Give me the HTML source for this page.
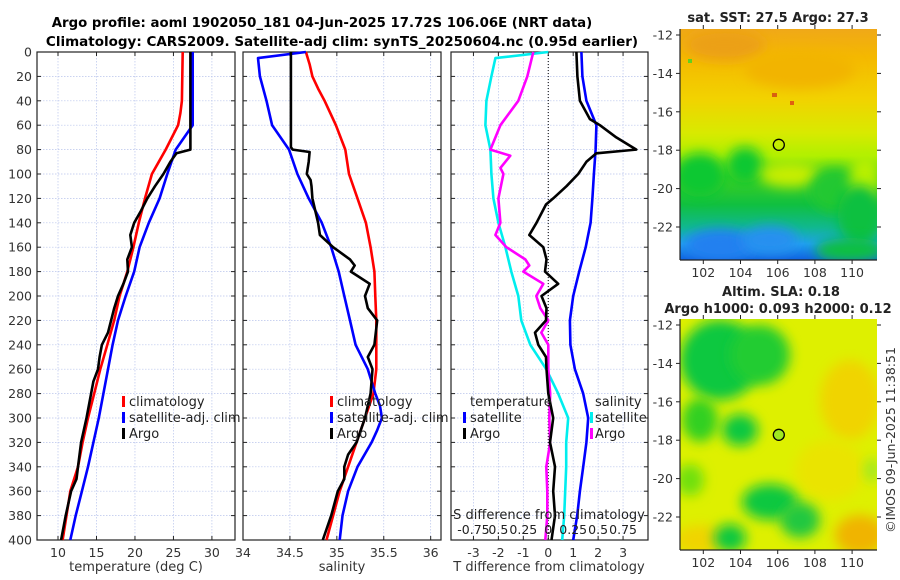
<!DOCTYPE html>
<html><head><meta charset="utf-8">
<style>
html,body{margin:0;padding:0;background:#fff;}
svg{display:block;font-family:"DejaVu Sans","Liberation Sans",sans-serif;}
</style></head>
<body>
<svg id="chart" width="900" height="580" viewBox="0 0 900 580" xmlns="http://www.w3.org/2000/svg">
<defs>
  <filter id="blur6" x="-50%" y="-50%" width="200%" height="200%"><feGaussianBlur stdDeviation="6"/></filter>
  <filter id="blur3" x="-50%" y="-50%" width="200%" height="200%"><feGaussianBlur stdDeviation="3"/></filter>
  <clipPath id="clipTop"><rect x="680" y="29" width="197" height="231"/></clipPath>
  <clipPath id="clipBot"><rect x="680" y="319" width="197" height="231"/></clipPath>
  <linearGradient id="sstGrad" x1="0" y1="0" x2="0" y2="1">
    <stop offset="0" stop-color="#f0a818"/>
    <stop offset="0.12" stop-color="#f4b800"/>
    <stop offset="0.3" stop-color="#f2d200"/>
    <stop offset="0.45" stop-color="#d8ea00"/>
    <stop offset="0.55" stop-color="#b0f000"/>
    <stop offset="0.64" stop-color="#40d020"/>
    <stop offset="0.76" stop-color="#10c040"/>
    <stop offset="0.86" stop-color="#10b890"/>
    <stop offset="0.93" stop-color="#20a0f0"/>
    <stop offset="1" stop-color="#1060e0"/>
  </linearGradient>
</defs>
<text x="322" y="27" text-anchor="middle" font-size="13.3" font-weight="bold">Argo profile: aoml 1902050_181 04-Jun-2025 17.72S 106.06E (NRT data)</text>
<text x="342" y="46" text-anchor="middle" font-size="13.5" font-weight="bold">Climatology: CARS2009. Satellite-adj clim: synTS_20250604.nc (0.95d earlier)</text>
<g id="panels"></g>
<g id="maps"></g>
</svg>
<script>
// ---------- data ----------
const tempDepths = [0,40,50,60,70,80,90,100,120,140,160,180,200,220,240,260,280,300,320,340,360,380,400];
const tempClim   = [26.2,26.1,25.9,25.6,24.8,24.0,23.1,22.2,21.3,20.5,19.8,19.0,18.0,17.3,16.4,15.5,14.7,13.9,13.2,12.6,11.6,11.1,10.6];
const tempSatDepths = [0,60,80,100,120,140,160,180,200,220,240,260,280,300,320,340,360,380,400];
const tempSat    = [27.5,27.5,25.3,24.2,23.2,21.8,20.6,19.9,18.8,17.8,17.1,16.5,15.9,15.3,14.6,13.9,13.1,12.3,11.6];
const tempArgoDepths = [0,80,83,90,100,110,120,130,140,150,160,170,180,190,200,210,220,230,240,250,260,270,280,300,320,340,350,360,380,400];
const tempArgo   = [27.2,27.2,25.4,24.6,23.7,22.6,21.6,20.8,19.9,19.4,19.6,19.0,19.1,18.5,17.8,17.3,16.9,16.5,15.7,15.4,15.2,14.6,14.3,13.7,13.0,12.6,12.4,11.7,11.0,10.4];

const salDepths = [0,10,20,30,40,60,80,100,120,140,160,180,200,220,240,260,280,300,320,340,360,380,400];
const salClim   = [34.67,34.71,34.74,34.80,34.87,34.99,35.09,35.13,35.22,35.31,35.36,35.40,35.41,35.42,35.42,35.42,35.39,35.30,35.21,35.12,35.03,34.96,34.89];
const salSatDepths = [0,5,20,40,60,80,100,120,140,160,180,200,220,240,260,280,290,300,310,320,340,360,380,400];
const salSat    = [34.67,34.16,34.18,34.25,34.31,34.49,34.58,34.70,34.84,34.94,35.02,35.08,35.14,35.20,35.33,35.41,35.46,35.48,35.43,35.37,35.22,35.12,35.06,35.03];
const salArgoDepths = [0,78,80,82,90,100,105,110,120,140,150,160,170,175,180,190,200,210,220,240,250,260,280,300,320,330,340,350,360,380,400];
const salArgo   = [34.51,34.51,34.53,34.71,34.70,34.68,34.72,34.73,34.74,34.80,34.82,34.96,35.14,35.19,35.15,35.35,35.30,35.33,35.43,35.40,35.33,35.38,35.36,35.30,35.21,35.12,35.08,35.08,35.01,34.94,34.85];

const diffDepths = [0,20,40,60,80,100,120,140,160,180,200,220,240,260,280,300,320,340,360,380,400];
const dTempSat  = [1.33,1.37,1.53,1.93,1.90,1.83,1.77,1.70,1.50,1.24,1.00,0.87,0.89,1.07,1.40,1.60,1.53,1.40,1.27,1.16,1.00];
const dArgoTDepths = [0,20,40,55,60,70,80,83,90,100,110,120,125,140,150,160,170,180,190,200,210,220,230,240,250,260,280,300,320,340,360,380,400];
const dTempArgo = [1.13,1.17,1.27,1.67,2.07,2.73,3.53,1.93,1.53,1.20,0.73,0.20,-0.09,-0.47,-0.76,-0.20,-0.07,-0.13,0.40,-0.27,-0.07,-0.09,-0.53,-0.40,-0.09,-0.07,0.00,0.20,0.07,0.27,0.20,0.27,0.13];
const dSalSatDepths = [0,5,20,40,60,80,100,120,140,160,180,200,220,240,260,280,300,320,340,360,380,400];
const dSalSat   = [0.00,-0.53,-0.57,-0.62,-0.63,-0.58,-0.57,-0.55,-0.50,-0.43,-0.37,-0.30,-0.27,-0.18,-0.02,0.10,0.20,0.18,0.18,0.17,0.16,0.14];
const dSalArgoDepths = [0,20,40,60,80,85,95,100,120,140,150,160,170,175,180,190,200,210,220,230,240,260,280,300,320,340,360,380,400];
const dSalArgo  = [-0.15,-0.21,-0.30,-0.48,-0.58,-0.38,-0.48,-0.45,-0.50,-0.48,-0.53,-0.42,-0.23,-0.19,-0.25,-0.05,-0.12,-0.08,0.00,-0.07,0.00,0.00,0.02,0.01,0.02,-0.02,-0.01,-0.01,-0.03];

const depthTicks = [0,20,40,60,80,100,120,140,160,180,200,220,240,260,280,300,320,340,360,380,400];
const tempTicks = [10,15,20,25,30];
const salTicks = [34,34.5,35,35.5,36];
const salTickLabels = ["34","34.5","35","35.5","36"];
const dTTicks = [-3,-2,-1,0,1,2,3];
const dSTicks = [-0.75,-0.5,-0.25,0,0.25,0.5,0.75];
const dSTickLabels = ["-0.75","0.5","0.25","0","0.25","0.5","0.75"];
const mapLonTicks = [102,104,106,108,110];
const mapLatTicks = [-12,-14,-16,-18,-20,-22];
const argoLon = 106.06, argoLat = -17.72;

// ---------- helpers ----------
const NS = "http://www.w3.org/2000/svg";
function mk(tag, attrs, parent){
  const e = document.createElementNS(NS, tag);
  for (const k in attrs) e.setAttribute(k, attrs[k]);
  parent.appendChild(e);
  return e;
}
const PT = 52, PB = 540;
const yD = d => PT + (PB-PT)*d/400;
function xScale(x0,x1,a,b){ return v => x0 + (v-a)/(b-a)*(x1-x0); }

const panelsG = document.getElementById('panels');

function framePanel(name, x0, x1, xs, ticks, labels, showY){
  const g = mk('g', {}, panelsG);
  
  
  ticks.forEach(t => {
    const x = xs(t);
    if (x > x0+1 && x < x1-1) {
      const l = mk('line', {x1:x, x2:x, y1:PT, y2:PB, stroke:'#b8c4ec', 'stroke-width':0.7, 'stroke-dasharray':'1.5,1.5'}, g);
      
      
    }
  });
  depthTicks.forEach(d => {
    const y = yD(d);
    const l = mk('line', {x1:x0, x2:x1, y1:y, y2:y, stroke:'#b8c4ec', 'stroke-width':0.7, 'stroke-dasharray':'1.5,1.5'}, g);
    
    
    mk('line', {x1:x0, x2:x0+4, y1:y, y2:y, stroke:'#222', 'stroke-width':1}, g);
    mk('line', {x1:x1-4, x2:x1, y1:y, y2:y, stroke:'#222', 'stroke-width':1}, g);
    if (showY) {
      const t = mk('text', {x:x0-5, y:y+4.5, 'text-anchor':'end', 'font-size':12.5, fill:'#333'}, g);
      t.textContent = d;
      
      
    }
  });
  ticks.forEach((t,i) => {
    const x = xs(t);
    mk('line', {x1:x, x2:x, y1:PB-4, y2:PB, stroke:'#222', 'stroke-width':1}, g);
    mk('line', {x1:x, x2:x, y1:PT, y2:PT+4, stroke:'#222', 'stroke-width':1}, g);
    if (labels) {
      const tx = mk('text', {x:x, y:PB+17, 'text-anchor':'middle', 'font-size':12.5, fill:'#333'}, g);
      tx.textContent = labels[i];
      
      
    }
  });
  const r = mk('rect', {x:x0, y:PT, width:x1-x0, height:PB-PT, fill:'none', stroke:'#222', 'stroke-width':1.2}, g);
  
  
  return g;
}
function line(g, name, xs, depths, vals, color, scale){
  const pts = depths.map((d,i) => xs(vals[i]*(scale||1)).toFixed(1) + ',' + yD(d).toFixed(1)).join(' ');
  const p = mk('polyline', {points:pts, fill:'none', stroke:color, 'stroke-width':2.6, 'stroke-linejoin':'round'}, g);
  
  
}
function label(g, name, x, y, txt, opts){
  const t = mk('text', Object.assign({x:x, y:y, 'font-size':13, fill:'#222'}, opts||{}), g);
  t.textContent = txt;
  
  
  return t;
}
function legendMark(g, name, x, y, color){
  const r = mk('rect', {x:x, y:y, width:3, height:11, fill:color}, g);
  
  
}

// ---------- panel 1: temperature ----------
const xT = xScale(37, 235, 7.27, 33.0);
const g1 = framePanel('temperature-panel', 37, 235, xT, tempTicks, tempTicks.map(String), true);
line(g1, 'temperature-climatology-line', xT, tempDepths, tempClim, '#ff0000');
line(g1, 'temperature-satellite-line', xT, tempSatDepths, tempSat, '#0000ff');
line(g1, 'temperature-argo-line', xT, tempArgoDepths, tempArgo, '#000000');
label(g1, 'x-axis-title-temperature', 136, 571, 'temperature (deg C)', {'text-anchor':'middle', fill:'#333'});
legendMark(g1, 'legend-marker-climatology', 122, 396, '#ff0000');
label(g1, 'legend-climatology', 129, 406, 'climatology');
legendMark(g1, 'legend-marker-satellite', 122, 412, '#0000ff');
label(g1, 'legend-satellite', 129, 422, 'satellite-adj. clim');
legendMark(g1, 'legend-marker-argo', 122, 428, '#000000');
label(g1, 'legend-argo', 129, 438, 'Argo');

// ---------- panel 2: salinity ----------
const xS = xScale(243, 441, 34.0, 36.11);
const g2 = framePanel('salinity-panel', 243, 441, xS, salTicks, salTickLabels, false);
line(g2, 'salinity-climatology-line', xS, salDepths, salClim, '#ff0000');
line(g2, 'salinity-satellite-line', xS, salSatDepths, salSat, '#0000ff');
line(g2, 'salinity-argo-line', xS, salArgoDepths, salArgo, '#000000');
label(g2, 'x-axis-title-salinity', 342, 571, 'salinity', {'text-anchor':'middle', fill:'#333'});
legendMark(g2, 'legend-marker-climatology', 330, 396, '#ff0000');
label(g2, 'legend-climatology', 337, 406, 'climatology');
legendMark(g2, 'legend-marker-satellite', 330, 412, '#0000ff');
label(g2, 'legend-satellite', 337, 422, 'satellite-adj. clim');
legendMark(g2, 'legend-marker-argo', 330, 428, '#000000');
label(g2, 'legend-argo', 337, 438, 'Argo');

// ---------- panel 3: differences ----------
const xDT = xScale(451, 648, -3.9, 4.0);
const g3 = framePanel('difference-panel', 451, 648, xDT, dTTicks, dTTicks.map(String), false);
const z = mk('line', {x1:xDT(0), x2:xDT(0), y1:PT, y2:PB, stroke:'#000', 'stroke-width':1, 'stroke-dasharray':'1,2'}, g3);


line(g3, 'salinity-diff-satellite-line', xDT, dSalSatDepths, dSalSat, '#00eeee', 4);
line(g3, 'salinity-diff-argo-line', xDT, dSalArgoDepths, dSalArgo, '#ff00ff', 4);
line(g3, 'temperature-diff-satellite-line', xDT, diffDepths, dTempSat, '#0000ff');
line(g3, 'temperature-diff-argo-line', xDT, dArgoTDepths, dTempArgo, '#000000');
label(g3, 'x-axis-title-t-difference', 549, 571, 'T difference from climatology', {'text-anchor':'middle', fill:'#333'});
label(g3, 's-axis-title', 549, 519, 'S difference from climatology', {'text-anchor':'middle', fill:'#222'});
dSTicks.forEach((s,i) => {
  label(g3, 's-tick-label', xDT(s*4), 534, dSTickLabels[i], {'text-anchor':'middle', 'font-size':12.5});
});
label(g3, 'legend-temperature-heading', 470, 406, 'temperature');
legendMark(g3, 'legend-marker-temp-satellite', 463, 412, '#0000ff');
label(g3, 'legend-temp-satellite', 470, 422, 'satellite');
legendMark(g3, 'legend-marker-temp-argo', 463, 428, '#000000');
label(g3, 'legend-temp-argo', 470, 438, 'Argo');
label(g3, 'legend-salinity-heading', 595, 406, 'salinity');
legendMark(g3, 'legend-marker-sal-satellite', 590, 412, '#00eeee');
label(g3, 'legend-sal-satellite', 595, 422, 'satellite');
legendMark(g3, 'legend-marker-sal-argo', 590, 428, '#ff00ff');
label(g3, 'legend-sal-argo', 595, 438, 'Argo');

// ---------- maps ----------
const mapsG = document.getElementById('maps');
const mxLon = v => 703.3 + (v-102)*18.6;
function drawMap(name, top, clip, fillFn){
  const g = mk('g', {}, mapsG);
  
  
  const myLat = v => top + 6 + (-12 - v)*19.2;
  const inner = mk('g', {'clip-path':'url(#'+clip+')'}, g);
  fillFn(inner, top);
  mapLatTicks.forEach(v => {
    const y = myLat(v);
    mk('line', {x1:877, x2:881, y1:y, y2:y, stroke:'#222'}, g);
    mk('line', {x1:676, x2:680, y1:y, y2:y, stroke:'#222'}, g);
    label(g, 'lat-tick-label', 673, y+4.5, String(v), {'text-anchor':'end', 'font-size':12.5, fill:'#333'});
  });
  mapLonTicks.forEach(v => {
    const x = mxLon(v);
    mk('line', {x1:x, x2:x, y1:top+231, y2:top+235, stroke:'#222'}, g);
    mk('line', {x1:x, x2:x, y1:top-4, y2:top, stroke:'#222'}, g);
    label(g, 'lon-tick-label', x, top+248, String(v), {'text-anchor':'middle', 'font-size':12.5, fill:'#333'});
  });
  mk('line', {x1:680, x2:680, y1:top, y2:top+231, stroke:'#222', 'stroke-width':1.2}, g);
  mk('line', {x1:680, x2:877, y1:top+231, y2:top+231, stroke:'#222', 'stroke-width':1.2}, g);
  const c = mk('circle', {cx:mxLon(argoLon), cy:myLat(argoLat), r:5.5, fill: name==='sla-map' ? '#a0e820':'none', stroke:'#000', 'stroke-width':1.3}, g);
  
  
  return g;
}
function blob(g, cx, cy, rx, ry, col, f){ mk('ellipse', {cx:cx, cy:cy, rx:rx, ry:ry, fill:col, filter:'url(#'+(f||'blur6')+')'}, g); }

drawMap('sst-map', 29, 'clipTop', (g) => {
  mk('rect', {x:680, y:29, width:197, height:231, fill:'url(#sstGrad)'}, g);
  blob(g, 725, 45, 40, 16, '#eca018');
  blob(g, 800, 70, 55, 18, '#f2b400');
  blob(g, 700, 175, 25, 22, '#10c830');
  blob(g, 745, 165, 18, 18, '#10c830');
  blob(g, 790, 175, 30, 12, '#c8ee00');
  blob(g, 835, 190, 25, 22, '#20c830');
  blob(g, 865, 180, 15, 25, '#b8f000');
  blob(g, 860, 215, 22, 30, '#10c040');
  blob(g, 720, 245, 35, 16, '#2080f0');
  blob(g, 770, 240, 28, 14, '#2890f0');
  blob(g, 850, 250, 35, 12, '#10c040');
  mk('rect', {x:772, y:93, width:5, height:4, fill:'#d86010'}, g);
  mk('rect', {x:790, y:101, width:4, height:4, fill:'#e06010'}, g);
  mk('rect', {x:688, y:59, width:4, height:4, fill:'#60d020'}, g);
});
drawMap('sla-map', 319, 'clipBot', (g) => {
  mk('rect', {x:680, y:319, width:197, height:231, fill:'#def000'}, g);
  blob(g, 850, 400, 30, 40, '#f0d400');
  blob(g, 830, 470, 35, 30, '#eae400');
  blob(g, 860, 535, 25, 20, '#f0b400');
  blob(g, 700, 540, 25, 15, '#f0d400');
  blob(g, 720, 360, 40, 40, '#10c840');
  blob(g, 760, 355, 30, 30, '#20cc30');
  blob(g, 700, 420, 18, 22, '#30d020');
  blob(g, 740, 430, 18, 16, '#10c840');
  blob(g, 690, 480, 14, 16, '#70e010');
  blob(g, 770, 502, 28, 18, '#10c840');
  blob(g, 800, 520, 20, 18, '#20c840');
  blob(g, 730, 538, 16, 14, '#10c840');
  blob(g, 872, 470, 8, 12, '#a0e820');
});
label(mapsG, 'sst-map-title', 778, 22, 'sat. SST: 27.5 Argo: 27.3', {'text-anchor':'middle', 'font-weight':'bold', 'font-size':13});
label(mapsG, 'sla-map-title-line-1', 781, 296, 'Altim. SLA: 0.18', {'text-anchor':'middle', 'font-weight':'bold', 'font-size':13});
label(mapsG, 'sla-map-title-line-2', 778, 313, 'Argo h1000: 0.093 h2000: 0.12', {'text-anchor':'middle', 'font-weight':'bold', 'font-size':13});
label(mapsG, 'imos-timestamp', 0, 0, '©IMOS 09-Jun-2025 11:38:51', {'text-anchor':'middle', 'font-size':12.5, fill:'#333', transform:'translate(895,440) rotate(-90)'});
</script>
</body></html>
